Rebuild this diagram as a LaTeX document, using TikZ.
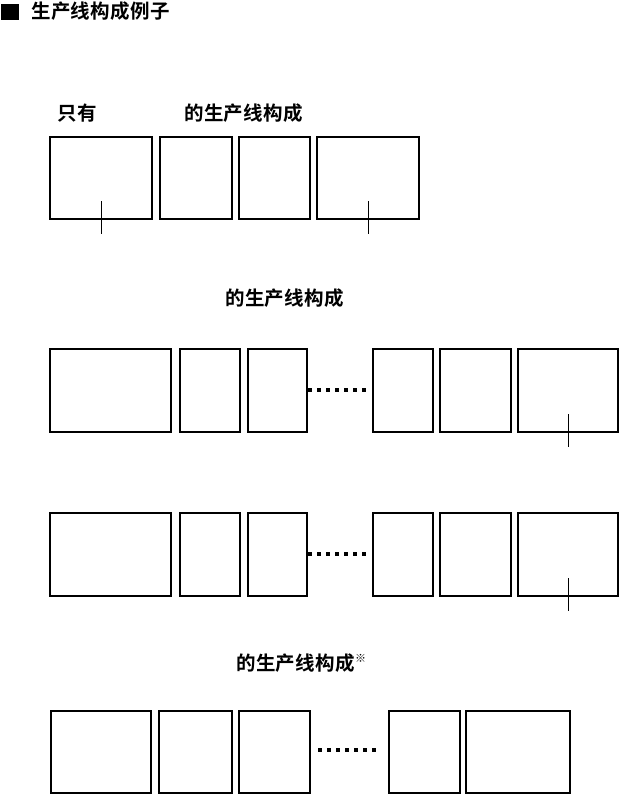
\documentclass[tikz,border=0pt]{standalone}
\usepackage{fontspec}
\newfontfamily\cjk{Noto Sans CJK SC}[BoldFont={Noto Sans CJK SC Bold}, LetterSpace=2]
\usetikzlibrary{positioning}
\tikzset{
  cell/.style={draw, line width=1.4pt, inner sep=0pt, outer sep=0pt, anchor=north west},
  heavycell/.style={cell, line width=2pt},
  heading/.style={font=\cjk\bfseries\fontsize{19.5}{19.5}\selectfont, inner sep=0pt, anchor=base west},
  gap/.style={line width=4pt, dash pattern=on 4pt off 5pt},
  tick/.style={line width=1pt}
}

\begin{document}
\begin{tikzpicture}[x=1pt, y=-1pt]
  \useasboundingbox (0,0) rectangle (620,795);

  % Title
  \node[fill=black, inner sep=0pt, minimum width=18pt, minimum height=16pt, anchor=north west] (mark) at (1,4) {};
  \node[heading] (title) at (31,18) {生产线构成例子};

  % Row 1
  \node[heading] (h1a) at (57,120) {只有};
  \node[heading] (h1b) at (184,120) {的生产线构成};
  \foreach \x/\w [count=\i] in {50/102, 160/72, 239/71, 317/102} {
    \node[cell, minimum width=\w pt, minimum height=82pt] (r1c\i) at (\x,137) {};
  }
  \draw[tick] ([yshift=18pt]r1c1.south) -- ([yshift=-15pt]r1c1.south);
  \draw[tick] ([yshift=18pt]r1c4.south) -- ([yshift=-15pt]r1c4.south);

  % Row 2 and row 3
  \node[heading] (h2) at (225,305) {的生产线构成};
  \foreach \r/\y in {2/349, 3/513} {
    \foreach \x/\w [count=\i] in {50/121, 180/60, 248/59, 373/60, 440/71, 518/100} {
      \node[cell, minimum width=\w pt, minimum height=83pt] (r\r c\i) at (\x,\y) {};
    }
    \draw[gap] ([xshift=1pt, yshift=1pt]r\r c3.east) -- ++(58,0);
    \draw[tick] ([yshift=18pt]r\r c6.south) -- ([yshift=-15pt]r\r c6.south);
  }

  % Row 4
  \node[heading] (h4) at (236,670) {的生产线构成{\fontsize{11}{11}\selectfont\raisebox{8pt}{※}}};
  \foreach \x/\w [count=\i] in {51/100, 159/73, 239/71, 389/71, 466/104} {
    \node[heavycell, minimum width=\w pt, minimum height=82pt] (r4c\i) at (\x,711) {};
  }
  \draw[gap] ([xshift=8pt, yshift=2pt]r4c3.east) -- ++(59,0);
\end{tikzpicture}
\end{document}
